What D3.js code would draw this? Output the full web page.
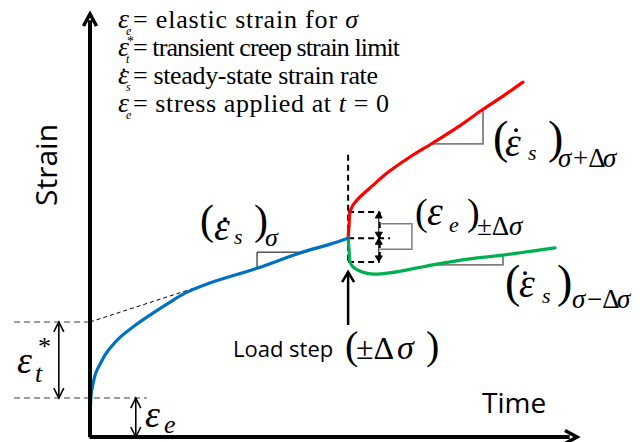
<!DOCTYPE html>
<html>
<head>
<meta charset="utf-8">
<script src="https://cdn.jsdelivr.net/npm/d3@7"></script>
<style>
  body { margin: 0; background: #fff; }
  text { font-family: "Liberation Serif", "Times New Roman", serif; fill: #000; }
  .sans { font-family: "Open Sans", "Noto Sans", sans-serif; }
</style>
</head>
<body>
<div id="chart"></div>
<script>
// curves: [time, strain], arbitrary units 0..10
const primaryCreep = [[0, 0], [0, 0.4], [0.01, 0.76], [0.03, 1.07], [0.07, 1.3], [0.12, 1.52],
  [0.21, 1.73], [0.31, 1.94], [0.41, 2.1], [0.62, 2.36], [0.88, 2.6], [1.23, 2.88], [1.58, 3.14],
  [1.95, 3.4], [2.46, 3.64], [3.43, 3.99], [4.31, 4.35], [4.93, 4.56], [5.3, 4.7]];
const stepUp = [[5.3, 4.7], [5.32, 5.01], [5.34, 5.32], [5.4, 5.48], [5.54, 5.67], [5.79, 5.93],
  [6.1, 6.24], [6.57, 6.62], [7.04, 6.95], [7.56, 7.33], [8.05, 7.73], [8.48, 8.06], [8.89, 8.39]];
const stepDown = [[5.3, 4.7], [5.32, 4.42], [5.34, 4.14], [5.4, 4.02], [5.59, 3.9], [5.81, 3.85],
  [6.16, 3.88], [7.04, 4.07], [7.8, 4.21], [8.48, 4.3], [9.55, 4.47]];

const loadTime = 5.3;
const elasticLevel = 0.92;
const transientLevel = 2.72;
const tangent = [[0, transientLevel], [loadTime, 4.7]];
const stepLevels = [5.32, 4.7, 4.14]; // top, at step, bottom of the jump box

// slope triangles: [corner, end of horizontal leg, end of vertical leg]
const slopeBlue = [[3.43, 4.37], [4.31, 4.37], [3.43, 4.02]];
const slopeRed = [[8.07, 6.93], [7.02, 6.93], [8.07, 7.73]];
const slopeGreen = [[8.48, 4.07], [7.04, 4.07], [8.48, 4.3]];

const legendLines = [
  { sub: "e", parts: [["= elastic strain for "], ["σ", 1]], len: 225 },
  { sub: "t", sup: "*", parts: [["= transient creep strain limit"]], len: 267 },
  { sub: "s", dot: true, parts: [["= steady-state strain rate"]], len: 245 },
  { sub: "e", parts: [["= stress applied at "], ["t", 1], [" = 0"]], len: 256 },
];

const width = 644, height = 442;
const x = d3.scaleLinear().domain([0, 10]).range([90, 577]);
const y = d3.scaleLinear().domain([0, 10]).range([437, 14]);

const svg = d3.select("#chart").append("svg")
  .attr("width", width).attr("height", height)
  .attr("viewBox", [0, 0, width, height]);

const line = d3.line().x(d => x(d[0])).y(d => y(d[1]));
const smooth = d3.line().x(d => x(d[0])).y(d => y(d[1])).curve(d3.curveCatmullRom.alpha(0.5));

function seg(g, a, b, stroke, w, dash) {
  return g.append("path").attr("d", line([a, b]))
    .attr("fill", "none").attr("stroke", stroke).attr("stroke-width", w)
    .attr("stroke-dasharray", dash || null);
}

// chevron head at pixel tip, pointing along angle (radians)
function head(g, px, py, ang, len, half, w, filled) {
  const bx = px - len * Math.cos(ang), by = py - len * Math.sin(ang);
  const nx = -Math.sin(ang) * half, ny = Math.cos(ang) * half;
  const p = d3.path();
  p.moveTo(bx + nx, by + ny); p.lineTo(px, py); p.lineTo(bx - nx, by - ny);
  if (filled) p.closePath();
  g.append("path").attr("d", p.toString())
    .attr("fill", filled ? "#000" : "none").attr("stroke", "#000")
    .attr("stroke-width", w).attr("stroke-linejoin", "miter");
}

function dblArrow(g, t, s0, s1, len, half, w, filled) {
  seg(g, [t, s0], [t, s1], "#000", w);
  head(g, x(t), y(s0), Math.PI / 2, len, half, w, filled);
  head(g, x(t), y(s1), -Math.PI / 2, len, half, w, filled);
}

const ann = svg.append("g");

// reference levels on the left
seg(ann, [-1.56, transientLevel], [0, transientLevel], "#7f7f7f", 1.5, "6,4");
seg(ann, [-1.56, elasticLevel], [1.17, elasticLevel], "#7f7f7f", 1.5, "6,4");
dblArrow(ann, -0.64, elasticLevel, transientLevel, 10, 5, 1.6, false);
dblArrow(ann, 0.94, 0, elasticLevel, 10, 5, 1.6, false);

// tangent to steady-state part
seg(ann, tangent[0], tangent[1], "#000", 1, "4,3");

// slope triangles
[[slopeBlue, "#000", 1], [slopeRed, "#7f7f7f", 1.8], [slopeGreen, "#7f7f7f", 1.8]].forEach(([tri, c, w]) => {
  ann.append("path").attr("d", line([tri[1], tri[0], tri[2]]))
    .attr("fill", "none").attr("stroke", c).attr("stroke-width", w);
});

// jump box at the load step
const boxRight = 5.95;
seg(ann, [loadTime, 6.67], [loadTime, stepLevels[2]], "#000", 2, "6,4");
seg(ann, [loadTime, stepLevels[0]], [boxRight, stepLevels[0]], "#000", 2, "6,4");
seg(ann, [loadTime, stepLevels[1]], [6.16, stepLevels[1]], "#000", 2, "6,4");
seg(ann, [loadTime, stepLevels[2]], [boxRight, stepLevels[2]], "#000", 2, "6,4");
seg(ann, [boxRight, stepLevels[0]], [boxRight, stepLevels[2]], "#000", 2, "6,4");
dblArrow(ann, 5.93, stepLevels[1], stepLevels[0], 6, 3.5, 1, true);
dblArrow(ann, 5.93, stepLevels[2], stepLevels[1], 6, 3.5, 1, true);
ann.append("path").attr("d", line([[5.95, 5.04], [6.61, 5.04], [6.61, 4.44], [5.95, 4.44]]))
  .attr("fill", "none").attr("stroke", "#7f7f7f").attr("stroke-width", 1.5);

// load step arrow
seg(ann, [loadTime, 2.65], [loadTime, 3.88], "#000", 2.5);
head(ann, x(loadTime), y(3.9), -Math.PI / 2, 10, 6, 2.5, false);

// curves
const curves = svg.append("g").attr("fill", "none").attr("stroke-width", 3.2).attr("stroke-linecap", "round");
curves.append("path").attr("d", smooth(stepUp)).attr("stroke", "#ff0000");
curves.append("path").attr("d", smooth(stepDown)).attr("stroke", "#00b050");
curves.append("path").attr("d", smooth(primaryCreep)).attr("stroke", "#0070c0");

// axes
const axes = svg.append("g");
seg(axes, [0, 0], [0, 9.85], "#000", 4);
seg(axes, [0, 0], [9.85, 0], "#000", 4);
head(axes, x(0), y(10), -Math.PI / 2, 12, 6.5, 3.5, false);
head(axes, x(10), y(0), 0, 12, 6.5, 3.5, false);

svg.append("text").attr("class", "sans").attr("font-size", 30)
  .attr("text-anchor", "middle").attr("transform", "translate(57,165) rotate(-90)").text("Strain");
svg.append("text").attr("class", "sans").attr("font-size", 28).attr("x", 482).attr("y", 413).text("Time");
svg.append("text").attr("class", "sans").attr("font-size", 22).attr("x", 233).attr("y", 357).text("Load step");

// legend: symbol text, then the definition stretched to the reference width
legendLines.forEach((d, i) => {
  const by = 28 + i * 28;
  const sym = svg.append("text");
  sym.append("tspan").attr("x", 118).attr("y", by).attr("font-size", 28).attr("font-style", "italic").text("ε");
  if (d.dot) sym.append("tspan").attr("x", 121).attr("y", by - 13).attr("font-size", 22).text(".");
  if (d.sup) sym.append("tspan").attr("x", 127).attr("y", by - 10).attr("font-size", 14).text(d.sup);
  sym.append("tspan").attr("x", 126).attr("y", by + 7).attr("font-size", 12).attr("font-style", "italic").text(d.sub);
  const t = svg.append("text").attr("x", 133).attr("y", by).attr("font-size", 26)
    .attr("textLength", d.len).attr("lengthAdjust", "spacing");
  d.parts.forEach(([s, it]) => t.append("tspan").attr("font-style", it ? "italic" : null).text(s));
});

// math labels: one text, parts [text, dx, dy, size, italic]
function mathLabel(x0, y0, parts) {
  const t = svg.append("text");
  parts.forEach(([s, dx, dy, size, it]) => {
    t.append("tspan").attr("x", x0 + dx).attr("y", y0 + dy).attr("font-size", size)
      .attr("font-style", it ? "italic" : "normal").text(s);
  });
}

mathLabel(200, 234, [["(", 0, 0, 42], ["ε", 14, 6, 40, 1], [".", 21, -13, 32], ["s", 34, 10, 22, 1],
  [")", 54, 0, 42], ["σ", 65, 12, 26, 1]]);
mathLabel(493, 153, [["(", 0, 0, 46], ["ε", 12, 3, 40, 1], [".", 19, -21, 32], ["s", 35, 7, 22, 1],
  [")", 55, 0, 46], ["σ", 65, 14, 27, 1], ["+Δ", 80, 14, 27], ["σ", 110, 14, 27, 1]]);
mathLabel(415, 225, [["(", 0, 0, 38], ["ε", 12, 0, 40, 1], ["e", 34, 7, 22, 1],
  [")", 52, 0, 38], ["±Δ", 62, 10, 27], ["σ", 94, 10, 27, 1]]);
mathLabel(505, 297, [["(", 0, 0, 46], ["ε", 14, 0, 40, 1], [".", 16, -22, 32], ["s", 37, 6, 22, 1],
  [")", 52, 0, 46], ["σ", 67, 11, 27, 1], ["−Δ", 82, 11, 27], ["σ", 112, 11, 27, 1]]);
mathLabel(345, 359, [["(", 0, 0, 40], ["±Δ", 11, 0, 32], ["σ", 52, 0, 34, 1], [")", 81, 0, 40]]);
mathLabel(17, 373, [["ε", 0, 0, 38, 1], ["t", 18, 9, 26, 1], ["*", 21, -18, 26]]);
mathLabel(145, 427, [["ε", 0, 0, 38, 1], ["e", 19, 6, 26, 1]]);
</script>
</body>
</html>
